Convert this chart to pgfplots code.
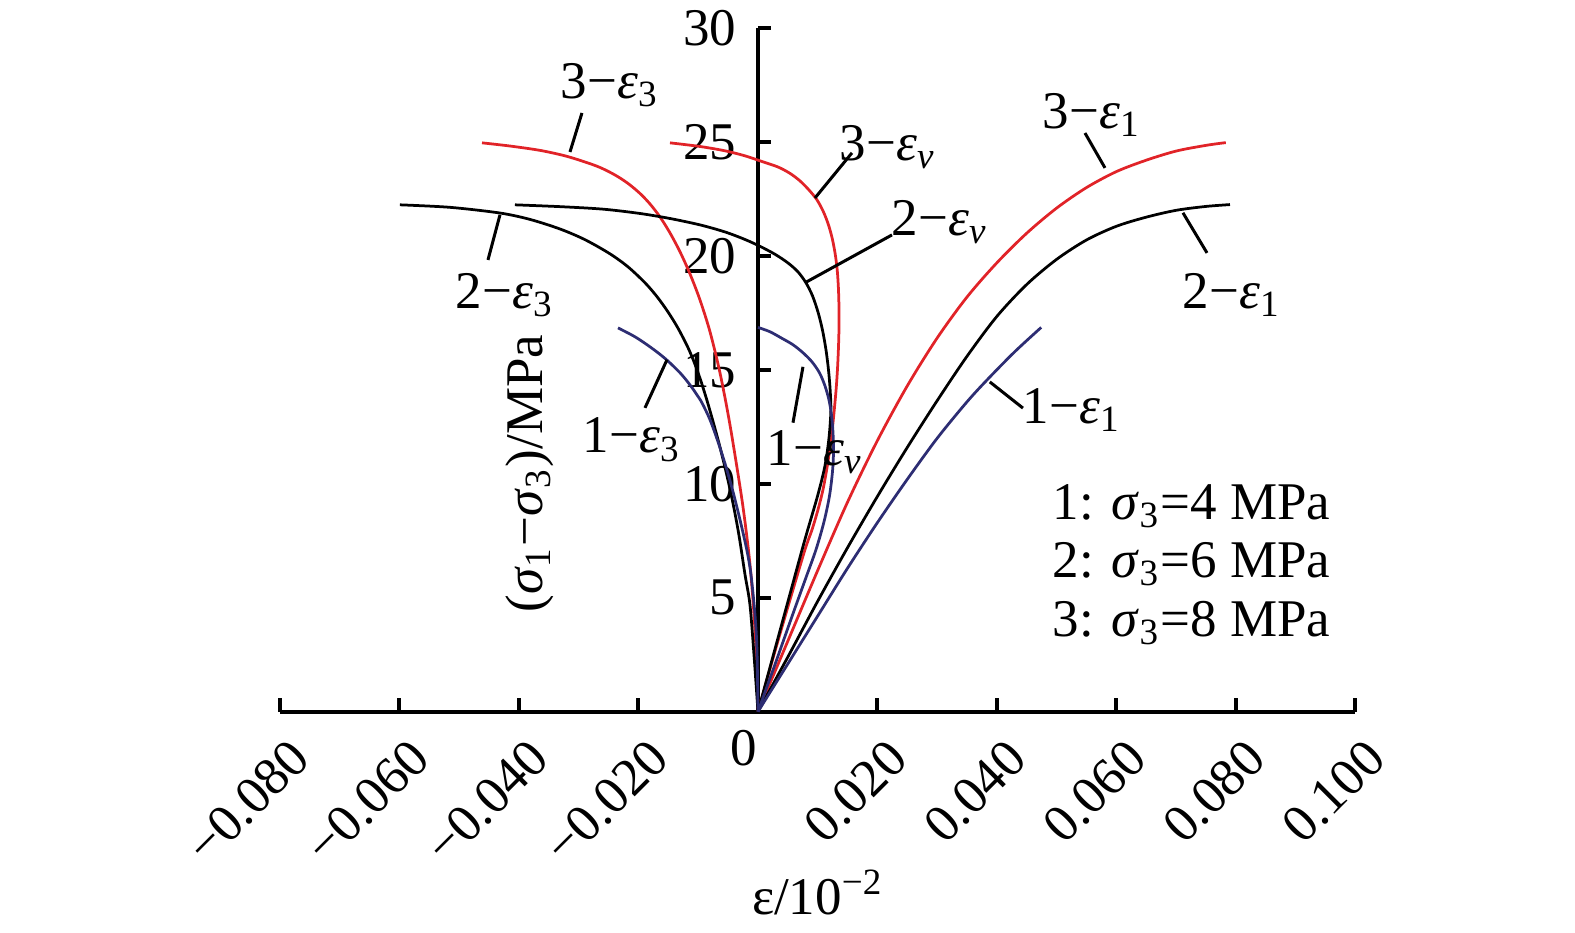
\documentclass[border=0pt]{standalone}
\usepackage{fontspec}
\setmainfont{Liberation Serif}
\usepackage{pgfplots}
\pgfplotsset{compat=1.18}
\definecolor{cred}{RGB}{225,35,40}
\definecolor{cblue}{RGB}{45,45,115}
\newcommand\lf{\fontsize{10.6}{12.7}\selectfont}
\newcommand\sub[1]{\textsubscript{#1}}
\newcommand\e{\textit{ε}}
\begin{document}
\begin{tikzpicture}
\begin{axis}[
 scale only axis, width=215.2pt, height=136.8pt,
 xmin=-0.08, xmax=0.1, ymin=0, ymax=30,
 axis lines=middle, axis line style={-, line width=0.8pt},
 clip=false,
 xtick={-0.08,-0.06,-0.04,-0.02,0.02,0.04,0.06,0.08,0.1},
 xticklabels={−0.080,−0.060,−0.040,−0.020,0.020,0.040,0.060,0.080,0.100},
 ytick={5,10,15,20,25,30}, yticklabels={5,10,15,20,25,30},
 tick align=inside, major tick length=2.7pt,
 tick style={line width=0.8pt, black},
 every tick label/.append style={font=\lf},
 xticklabel style={xshift=4.2pt, yshift=-7.4pt, rotate=45, anchor=east, inner sep=0pt},
 yticklabel style={anchor=east, inner sep=0pt, xshift=-4.2pt},
 every axis plot/.append style={line width=0.55pt, smooth, tension=0.5},
]
% sigma3 = 8 MPa (red): eps1, epsv, eps3
\addplot[cred] coordinates {(0,0) (0.005,3.1) (0.010,6.2) (0.015,9.2) (0.020,11.9) (0.025,14.3) (0.030,16.4) (0.035,18.2) (0.040,19.7) (0.045,21.0) (0.050,22.1) (0.055,23.0) (0.060,23.7) (0.065,24.2) (0.070,24.6) (0.075,24.85) (0.0783,24.97)};
\addplot[cred] coordinates {(0,0) (0.00268,2.50) (0.00536,4.91) (0.00787,7.11) (0.00904,7.98) (0.01004,8.86) (0.01088,9.74) (0.01155,10.70) (0.01205,11.58) (0.01247,12.46) (0.01280,13.33) (0.01310,14.21) (0.01332,15.09) (0.01347,15.96) (0.01356,16.84) (0.01356,17.72) (0.01346,18.60) (0.01326,19.39) (0.01292,20.09) (0.01244,20.75) (0.01180,21.36) (0.01096,21.93) (0.00987,22.46) (0.00854,22.89) (0.00703,23.29) (0.00536,23.62) (0.00335,23.90) (0.00067,24.14) (-0.00218,24.39) (-0.00552,24.61) (-0.00971,24.80) (-0.01473,24.96)};
\addplot[cred] coordinates {(0,0) (-0.00033,2.72) (-0.00084,4.91) (-0.00151,6.89) (-0.00268,9.30) (-0.00469,12.59) (-0.00636,14.87) (-0.00803,16.67) (-0.00971,18.07) (-0.01138,19.21) (-0.01305,20.18) (-0.01473,21.01) (-0.01640,21.71) (-0.01808,22.28) (-0.01975,22.74) (-0.02176,23.18) (-0.02393,23.55) (-0.02644,23.88) (-0.02895,24.12) (-0.03230,24.39) (-0.03649,24.63) (-0.04151,24.82) (-0.04619,24.96)};
% sigma3 = 6 MPa (black)
\addplot[black] coordinates {(0,0) (0.005,2.4) (0.010,4.85) (0.015,7.2) (0.020,9.45) (0.025,11.6) (0.030,13.65) (0.035,15.6) (0.040,17.35) (0.045,18.75) (0.050,19.85) (0.055,20.7) (0.060,21.3) (0.065,21.7) (0.070,22.0) (0.075,22.17) (0.0790,22.25)};
\addplot[black] coordinates {(0,0) (0.00259,2.50) (0.00519,5.00) (0.00780,7.50) (0.01001,9.50) (0.01121,10.79) (0.01188,12.00) (0.01220,13.20) (0.01208,14.12) (0.01180,15.00) (0.01138,15.88) (0.01079,16.75) (0.01004,17.54) (0.00912,18.25) (0.00803,18.82) (0.00669,19.30) (0.00502,19.69) (0.00285,20.07) (0.00033,20.42) (-0.00218,20.72) (-0.00552,21.05) (-0.00971,21.36) (-0.01473,21.64) (-0.01975,21.86) (-0.02594,22.05) (-0.03314,22.16) (-0.04067,22.24)};
\addplot[black] coordinates {(0,0) (-0.00067,2.50) (-0.00134,4.69) (-0.00218,6.03) (-0.00318,7.74) (-0.00418,9.14) (-0.00519,10.35) (-0.00636,11.61) (-0.00753,12.74) (-0.00854,13.66) (-0.00954,14.50) (-0.01054,15.24) (-0.01172,15.98) (-0.01339,16.83) (-0.01506,17.54) (-0.01690,18.21) (-0.01891,18.82) (-0.02176,19.52) (-0.02477,20.09) (-0.02895,20.71) (-0.03314,21.18) (-0.03816,21.60) (-0.04318,21.88) (-0.05155,22.13) (-0.05992,22.24)};
% sigma3 = 4 MPa (blue)
\addplot[cblue] coordinates {(0,0) (0.005,2.1) (0.010,4.2) (0.015,6.3) (0.020,8.3) (0.025,10.2) (0.030,12.0) (0.035,13.6) (0.0385,14.6) (0.043,15.8) (0.0474,16.86)};
\addplot[cblue] coordinates {(0,0) (0.00301,2.19) (0.00586,4.30) (0.00803,5.88) (0.00971,7.11) (0.01105,8.33) (0.01197,9.47) (0.01247,10.53) (0.01264,11.40) (0.01255,12.28) (0.01230,13.03) (0.01188,13.68) (0.01121,14.30) (0.01029,14.87) (0.00904,15.35) (0.00753,15.75) (0.00586,16.10) (0.00402,16.38) (0.00201,16.67) (0,16.86)};
\addplot[cblue] coordinates {(0,0) (-0.00017,2.72) (-0.00050,4.25) (-0.00117,6.01) (-0.00184,7.06) (-0.00301,8.42) (-0.00418,9.65) (-0.00536,10.75) (-0.00669,11.84) (-0.00803,12.81) (-0.00937,13.55) (-0.01021,13.90) (-0.01138,14.34) (-0.01305,14.87) (-0.01556,15.50) (-0.01808,16.01) (-0.02059,16.45) (-0.02343,16.84)};
% leader lines
\draw[line width=0.6pt] (axis cs:-0.02946,26.27) -- (axis cs:-0.03146,24.56);
\draw[line width=0.6pt] (axis cs:-0.04318,21.8) -- (axis cs:-0.04519,19.82);
\draw[line width=0.6pt] (axis cs:0.01573,24.52) -- (axis cs:0.00954,22.54);
\draw[line width=0.6pt] (axis cs:0.02243,20.92) -- (axis cs:0.00787,18.82);
\draw[line width=0.6pt] (axis cs:0.00753,15.13) -- (axis cs:0.00586,12.68);
\draw[line width=0.6pt] (axis cs:-0.01523,15.44) -- (axis cs:-0.01891,13.33);
\draw[line width=0.6pt] (axis cs:0.05473,25.39) -- (axis cs:0.05808,23.86);
\draw[line width=0.6pt] (axis cs:0.07113,21.89) -- (axis cs:0.07515,20.13);
\draw[line width=0.6pt] (axis cs:0.0388,14.47) -- (axis cs:0.04435,13.32);
% curve labels
\node[font=\lf] at (axis cs:-0.02477,27.5) {3−\e\sub{3}};
\node[font=\lf] at (axis cs:-0.04234,18.29) {2−\e\sub{3}};
\node[font=\lf] at (axis cs:-0.02109,11.93) {1−\e\sub{3}};
\node[font=\lf] at (axis cs:0.02176,24.78) {3−\e\sub{\textit{v}}};
\node[font=\lf] at (axis cs:0.03046,21.49) {2−\e\sub{\textit{v}}};
\node[font=\lf] at (axis cs:0.00954,11.4) {1−\e\sub{\textit{v}}};
\node[font=\lf] at (axis cs:0.0559,26.18) {3−\e\sub{1}};
\node[font=\lf] at (axis cs:0.07933,18.29) {2−\e\sub{1}};
\node[font=\lf] at (axis cs:0.05255,13.25) {1−\e\sub{1}};
% legend text
\node[font=\lf, anchor=base west, inner sep=0pt] at (axis cs:0.0492,8.42) {1: \textit{σ}\sub{3}=4 MPa};
\node[font=\lf, anchor=base west, inner sep=0pt] at (axis cs:0.0492,5.88) {2: \textit{σ}\sub{3}=6 MPa};
\node[font=\lf, anchor=base west, inner sep=0pt] at (axis cs:0.0492,3.29) {3: \textit{σ}\sub{3}=8 MPa};
% axis titles and origin
\node[font=\lf] at (axis cs:-0.00234,-1.58) {0};
\node[font=\lf, anchor=base] at (axis cs:0.01004,-8.9) {ε/10\textsuperscript{−2}};
\node[font=\lf, rotate=90] at (axis cs:-0.03816,10.44) {(\textit{σ}\sub{1}−\textit{σ}\sub{3})/MPa};
\coordinate (BL) at (axis cs:-0.12686,-9.693);
\coordinate (TR) at (axis cs:0.13674,31.228);
\end{axis}
\pgfresetboundingbox
\useasboundingbox (BL) rectangle (TR);
\end{tikzpicture}
\end{document}
